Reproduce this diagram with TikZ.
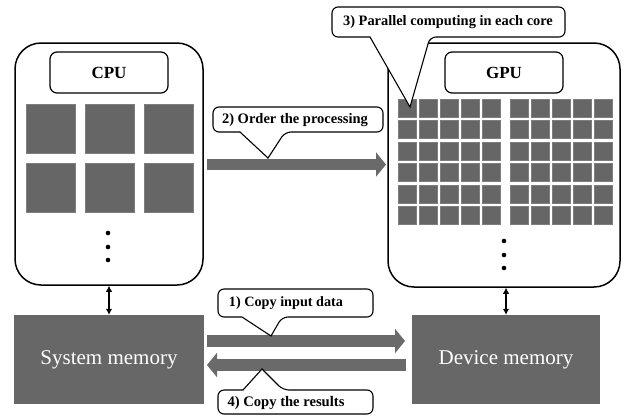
\documentclass[tikz,border=0pt]{standalone}
\usepackage{fontspec}
\setmainfont{Liberation Serif}
\usetikzlibrary{arrows.meta}
\definecolor{coregray}{HTML}{666666}
\definecolor{coreedge}{HTML}{7E7E7E}
\definecolor{memgray}{HTML}{676767}
\definecolor{flowgray}{HTML}{6A6A6A}
\tikzset{
  unitbox/.style={draw=black, line width=1.5pt, rounded corners=26pt, fill=white, inner sep=0pt},
  titlebox/.style={draw=black, line width=1.2pt, rounded corners=7pt, fill=white, inner sep=0pt,
    font=\fontsize{17}{20}\selectfont\bfseries},
  core/.style={fill=coregray, draw=coreedge, line width=0.5pt},
  memory/.style={fill=memgray, draw=none, inner sep=0pt, text=white,
    font=\fontsize{21}{25}\selectfont},
  flow/.style={draw=flowgray, -{Triangle[length=10pt,width=24pt]}},
  link/.style={line width=1.1pt, {Latex[length=6pt,width=6.5pt]}-{Latex[length=6pt,width=6.5pt]}},
  calloutline/.style={draw=black, line width=1.1pt, fill=white, line join=miter},
  callouttext/.style={inner sep=0pt, font=\fontsize{14.5}{16}\selectfont\bfseries},
  dot/.style={fill=black, draw=none},
}
\begin{document}
\begin{tikzpicture}[x=1pt, y=-1pt]
\useasboundingbox (0,0) rectangle (629,416);

% processing units
\node[unitbox, minimum width=188pt, minimum height=242pt] (cpu) at (109,164) {};
\node[unitbox, minimum width=232pt, minimum height=244pt] (gpu) at (504,165) {};
\node[titlebox, minimum width=118pt, minimum height=41pt] (cpulbl) at (109,72.5) {CPU};
\node[titlebox, minimum width=118pt, minimum height=41pt] (gpulbl) at (504,72.5) {GPU};

% CPU cores: 3 x 2 large squares
\foreach \i in {0,1,2}
  \foreach \j in {0,1}
    \fill[core] ({26+59*\i},{104+59*\j}) rectangle +(49,49);

% GPU cores: two blocks of 5 x 6 small squares
\foreach \b in {398,510}
  \foreach \i in {0,...,4}
    \foreach \j in {0,...,5}
      \fill[core] ({\b+21*\i},{99+21.5*\j}) rectangle +(18,18);

% continuation dots
\foreach \y in {233,247,260} \fill[dot] (108,\y) circle (2.3pt);
\foreach \y in {241,255,268} \fill[dot] (504,\y) circle (2.3pt);

% memories
\node[memory, minimum width=190pt, minimum height=89pt] (sys) at (109,359.5) {System memory};
\node[memory, minimum width=188pt, minimum height=89pt] (dev) at (506,359.5) {Device memory};

% host/device links
\draw[link] (cpu.south -| sys.north) -- (sys.north);
\draw[link] (dev.north |- gpu.south) -- (dev.north);

% data and command flows
\coordinate (ordS) at (207,164.5);
\coordinate (ordE) at (386,164.5);
\coordinate (cpyS) at (207,341);
\coordinate (cpyE) at (405,341);
\coordinate (retS) at (406,365);
\coordinate (retE) at (207,365);
\draw[flow, line width=11pt] (ordS) -- (ordE);
\draw[flow, line width=12pt] (cpyS) -- (cpyE);
\draw[flow, line width=12pt] (retS) -- (retE);

% callouts
\coordinate (tip3) at (410,107);
\path[calloutline] (370,37) [rounded corners=6pt] -- (332,37) -- (332,7) -- (565,7) -- (565,37) -- (430,37)
  [sharp corners] -- (tip3) -- cycle;
\node[callouttext, font=\fontsize{14.4}{16}\selectfont\bfseries] (c3) at (448,22.5) {3) Parallel computing in each core};

\coordinate (tip2) at (268,158);
\path[calloutline] (240,132) [rounded corners=6pt] -- (213,132) -- (213,107) -- (383,107) -- (383,132) -- (285,132)
  [sharp corners] -- (tip2) -- cycle;
\node[callouttext, font=\fontsize{14.5}{16}\selectfont\bfseries] (c2) at (295,120) {2) Order the processing};

\coordinate (tip1) at (271,336);
\path[calloutline] (242,317) [rounded corners=6pt] -- (218,317) -- (218,289) -- (373,289) -- (373,317) -- (282,317)
  [sharp corners] -- (tip1) -- cycle;
\node[callouttext, font=\fontsize{14.2}{16}\selectfont\bfseries] (c1) at (286,303.5) {1) Copy input data};

\coordinate (tip4) at (262,369);
\path[calloutline] (243,390) [rounded corners=6pt] -- (218,390) -- (218,414) -- (373,414) -- (373,390) -- (283,390)
  [sharp corners] -- (tip4) -- cycle;
\node[callouttext, font=\fontsize{14.6}{16}\selectfont\bfseries] (c4) at (286,403) {4) Copy the results};
\end{tikzpicture}
\end{document}
